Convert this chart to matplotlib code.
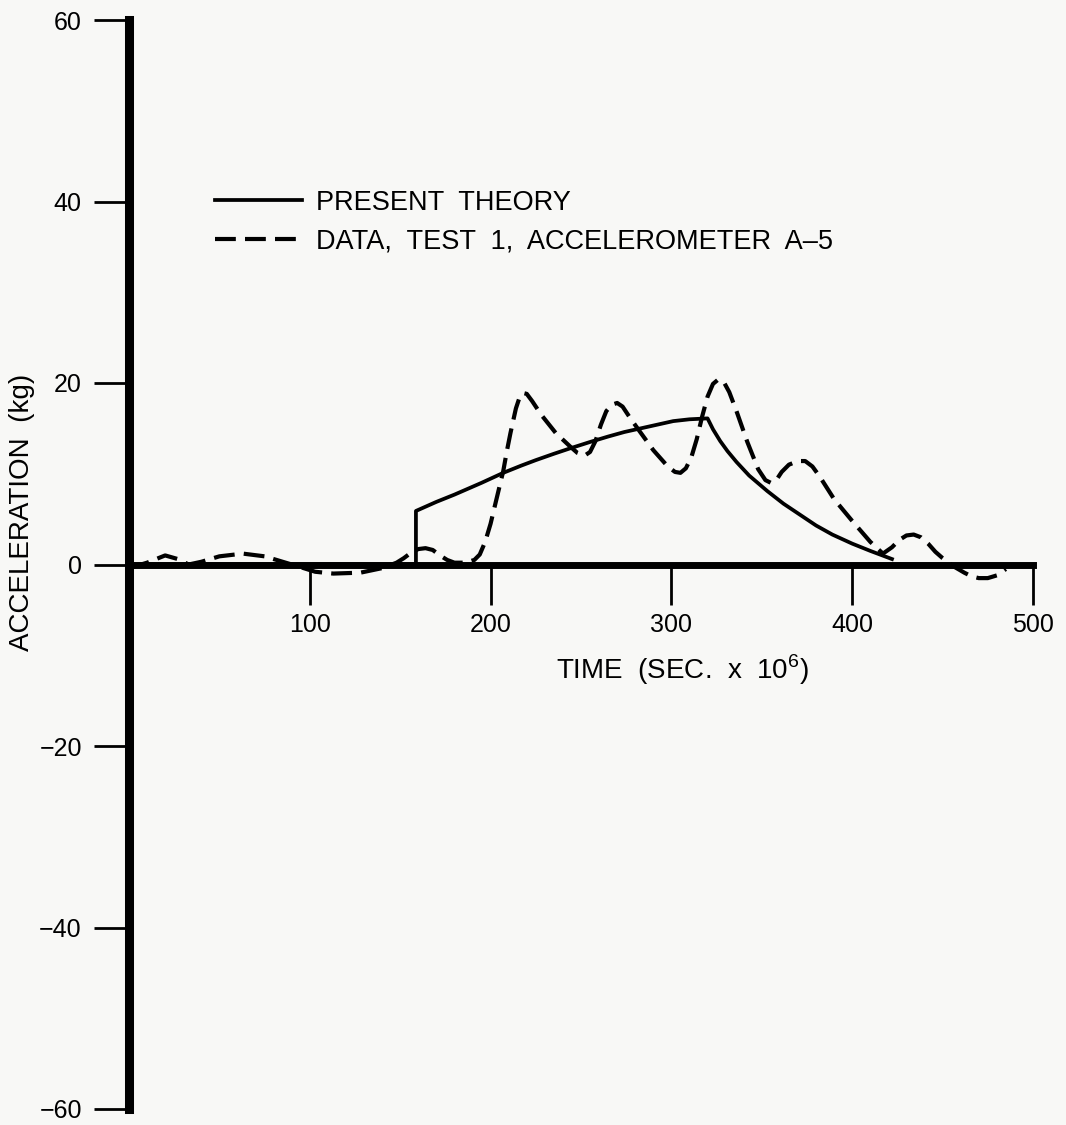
import matplotlib.pyplot as plt

plt.rcParams['font.family'] = ['Liberation Sans', 'DejaVu Sans']
plt.rcParams['mathtext.fontset'] = 'custom'
plt.rcParams['mathtext.rm'] = 'Liberation Sans'

# present theory (solid)
theory_t = [0, 158.7, 158.7, 170, 180, 195, 207, 217, 225, 235, 244, 255, 265,
            274, 283, 292, 301, 310, 320, 323, 327, 331, 336, 343, 353, 362,
            371, 380, 389, 400, 410, 422]
theory_a = [0, 0, 5.9, 6.9, 7.7, 9.0, 10.1, 10.9, 11.5, 12.2, 12.8, 13.5, 14.1,
            14.6, 15.0, 15.4, 15.8, 16.0, 16.1, 14.9, 13.6, 12.5, 11.3, 9.8,
            8.1, 6.7, 5.5, 4.3, 3.3, 2.3, 1.5, 0.6]

# data, test 1, accelerometer A-5 (dashed)
data_t = [0, 10, 20, 27, 33, 40, 50, 63, 75, 85, 95, 103, 113, 128, 140, 148,
          152, 156, 160, 164, 168, 172, 176, 180, 186, 191, 194, 197, 200, 203,
          207, 209, 211, 214, 216, 218, 220, 223, 228, 236, 244, 248, 252, 255,
          258, 261, 264, 267, 270, 273, 277, 282, 290, 298, 302, 305, 308, 311,
          314, 317, 320, 323, 326, 329, 332, 336, 342, 348, 352, 355, 358, 361,
          365, 370, 374, 378, 382, 390, 400, 410, 417, 422, 426, 430, 434, 438,
          442, 446, 450, 456, 462, 466, 470, 475, 480, 485]
data_a = [-0.4, 0.2, 1.0, 0.6, 0.0, 0.3, 0.9, 1.2, 0.9, 0.3, -0.3, -0.8, -1.0,
          -0.9, -0.4, 0.2, 0.7, 1.3, 1.7, 1.8, 1.6, 1.0, 0.5, 0.2, 0.2, 0.5,
          1.1, 2.5, 4.5, 7.0, 10.3, 12.5, 14.5, 17.2, 18.4, 18.9, 18.8, 18.0,
          16.5, 14.5, 13.0, 12.3, 12.0, 12.4, 13.6, 15.4, 16.9, 17.6, 17.8, 17.4,
          16.2, 14.8, 12.6, 10.8, 10.2, 10.1, 10.6, 11.8, 13.8, 16.3, 18.5, 19.9,
          20.4, 20.1, 19.0, 16.9, 13.5, 10.5, 9.3, 9.0, 9.3, 10.2, 11.0, 11.4,
          11.4, 10.8, 9.7, 7.2, 4.8, 2.5, 1.2, 1.9, 2.7, 3.2, 3.3, 3.0, 2.3, 1.4,
          0.7, -0.2, -0.9, -1.3, -1.5, -1.5, -1.2, -0.5]

x_ticks = [100, 200, 300, 400, 500]
y_ticks = [-60, -40, -20, 0, 20, 40, 60]

bg = '#f8f8f6'
fig = plt.figure(figsize=(10.66, 11.25), dpi=100, facecolor=bg)
ax = fig.add_axes([129 / 1066, 16 / 1125, 904 / 1066, 1089 / 1125])
ax.set_facecolor(bg)

ax.plot(theory_t, theory_a, color='black', lw=2.7, solid_joinstyle='round',
        label='PRESENT  THEORY')
ax.plot(data_t, data_a, color='black', lw=3.0, dashes=(5, 2.2),
        label='DATA,  TEST  1,  ACCELEROMETER  A\u20135')

ax.set_xlim(0, 500)
ax.set_ylim(-60, 60)

ax.spines['top'].set_visible(False)
ax.spines['right'].set_visible(False)
ax.spines['left'].set_position(('data', 0))
ax.spines['left'].set_linewidth(6.5)
ax.spines['bottom'].set_position(('data', 0))
ax.spines['bottom'].set_linewidth(5)
ax.spines['bottom'].set_zorder(1)

ax.set_xticks(x_ticks)
ax.set_yticks(y_ticks)
ax.tick_params(axis='x', direction='out', length=29, width=2, pad=6,
               labelsize=18)
ax.tick_params(axis='y', direction='out', length=25, width=2, pad=9,
               labelsize=18)

ax.legend(loc='upper left', bbox_to_anchor=(0.095, 0.844), frameon=False,
          fontsize=19.5, handlelength=3.2, handletextpad=0.55, labelspacing=0.45,
          borderpad=0, borderaxespad=0)

fig.text(22 / 1066, 1 - 512 / 1125, 'ACCELERATION  (kg)', rotation=90,
         ha='center', va='center', fontsize=20)
fig.text(682 / 1066, 1 - 670 / 1125, r'TIME  (SEC.  x  10$^{\mathregular{6}}$)',
         ha='center', va='center', fontsize=20)

fig.savefig('out.png', dpi=100, facecolor=bg)
